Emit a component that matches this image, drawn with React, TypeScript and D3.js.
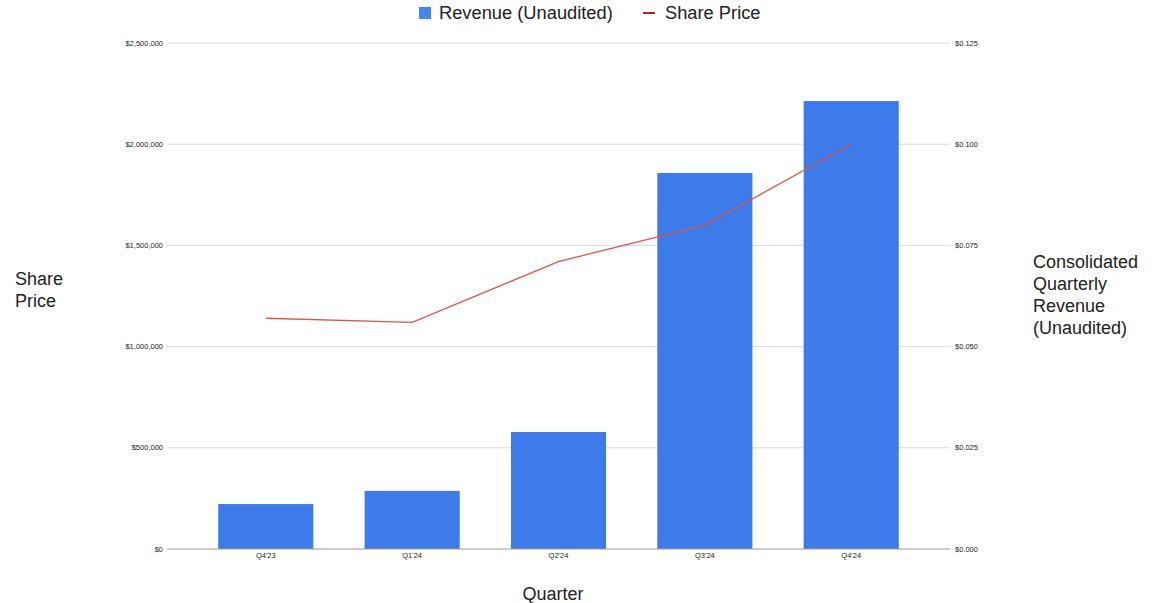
import React, { useEffect, useRef } from 'react';
import * as d3 from 'd3';

// chart values
const quarters = ["Q4'23", "Q1'24", "Q2'24", "Q3'24", "Q4'24"];
const revenue = [222000, 287000, 578000, 1858000, 2213000];
const sharePrice = [0.057, 0.056, 0.071, 0.08, 0.1];
const revenueTicks = [0, 500000, 1000000, 1500000, 2000000, 2500000];
const priceTicks = [0, 0.025, 0.05, 0.075, 0.1, 0.125];

const W = 1159;
const H = 603;
const FONT = '"Liberation Sans", Arial, Helvetica, sans-serif';

const App = () => {
  const svgRef = useRef<SVGSVGElement | null>(null);

  useEffect(() => {
    if (!svgRef.current) return;
    const svg = d3.select(svgRef.current);
    svg.selectAll('*').remove();

    const left = 167;
    const right = 950;
    const top = 43;
    const bottom = 549;

    const x = d3.scaleBand<string>()
      .domain(quarters)
      .range([left, right])
      .paddingInner(0.35)
      .paddingOuter(0.35);

    const yRev = d3.scaleLinear().domain([0, 2500000]).range([bottom, top]);
    const yPrice = d3.scaleLinear().domain([0, 0.125]).range([bottom, top]);

    const fmtRev = d3.format('$,.0f');
    const fmtPrice = (v: number) => '$' + d3.format('.3f')(v);

    // gridlines
    svg.append('g')
      .selectAll('line')
      .data(revenueTicks.slice(1))
      .join('line')
      .attr('x1', left)
      .attr('x2', right)
      .attr('y1', d => yRev(d))
      .attr('y2', d => yRev(d))
      .attr('stroke', '#dcdcdc')
      .attr('stroke-width', 1);

    // left tick labels
    svg.append('g')
      .selectAll('text')
      .data(revenueTicks)
      .join('text')
      .attr('x', left - 4)
      .attr('y', d => yRev(d))
      .attr('dy', '0.35em')
      .attr('text-anchor', 'end')
      .style('font-family', FONT)
      .style('font-size', '7.5px')
      .style('fill', '#222')
      .text(d => fmtRev(d));

    // right tick labels
    svg.append('g')
      .selectAll('text')
      .data(priceTicks)
      .join('text')
      .attr('x', right + 5)
      .attr('y', d => yPrice(d))
      .attr('dy', '0.35em')
      .attr('text-anchor', 'start')
      .style('font-family', FONT)
      .style('font-size', '7.5px')
      .style('fill', '#222')
      .text(d => fmtPrice(d));

    // bars
    svg.append('g')
      .selectAll('rect')
      .data(quarters)
      .join('rect')
      .attr('x', d => x(d)!)
      .attr('width', x.bandwidth())
      .attr('y', (d, i) => yRev(revenue[i]))
      .attr('height', (d, i) => bottom - yRev(revenue[i]))
      .attr('fill', '#3c7be9');

    // baseline
    svg.append('line')
      .attr('x1', left)
      .attr('x2', right)
      .attr('y1', bottom)
      .attr('y2', bottom)
      .attr('stroke', '#9a9a9a')
      .attr('stroke-width', 1);

    // x tick labels
    svg.append('g')
      .selectAll('text')
      .data(quarters)
      .join('text')
      .attr('x', d => x(d)! + x.bandwidth() / 2)
      .attr('y', bottom + 9)
      .attr('text-anchor', 'middle')
      .style('font-family', FONT)
      .style('font-size', '7.5px')
      .style('fill', '#222')
      .text(d => d);

    // share price line
    const line = d3.line<number>()
      .x((d, i) => x(quarters[i])! + x.bandwidth() / 2)
      .y(d => yPrice(d));

    svg.append('path')
      .datum(sharePrice)
      .attr('d', line)
      .attr('fill', 'none')
      .attr('stroke', '#e0554a')
      .attr('stroke-width', 1.3);

    // legend
    const legend = svg.append('g').style('font-family', FONT).style('font-size', '18.3px').style('fill', '#222');
    legend.append('rect')
      .attr('x', 419).attr('y', 7).attr('width', 12).attr('height', 12)
      .attr('fill', '#4285f4');
    legend.append('text').attr('x', 439).attr('y', 19).text('Revenue (Unaudited)');
    legend.append('line')
      .attr('x1', 643).attr('x2', 655).attr('y1', 13).attr('y2', 13)
      .attr('stroke', '#b3261e').attr('stroke-width', 2);
    legend.append('text').attr('x', 665).attr('y', 19).text('Share Price');

    // axis titles
    const titles = svg.append('g').style('font-family', FONT).style('font-size', '18px').style('fill', '#222');
    titles.append('text')
      .attr('x', 15).attr('y', 285)
      .selectAll('tspan')
      .data(['Share', 'Price'])
      .join('tspan')
      .attr('x', 15)
      .attr('dy', (d, i) => (i === 0 ? 0 : 22))
      .text(d => d);

    titles.append('text')
      .attr('x', 1033).attr('y', 268)
      .selectAll('tspan')
      .data(['Consolidated', 'Quarterly', 'Revenue', '(Unaudited)'])
      .join('tspan')
      .attr('x', 1033)
      .attr('dy', (d, i) => (i === 0 ? 0 : 22))
      .text(d => d);

    titles.append('text')
      .attr('x', 553).attr('y', 600)
      .attr('text-anchor', 'middle')
      .text('Quarter');
  }, []);

  return (
    <svg
      ref={svgRef}
      width={W}
      height={H}
      style={{ position: 'absolute', left: 0, top: 0, background: '#fff', display: 'block' }}
    />
  );
};

export default App;
